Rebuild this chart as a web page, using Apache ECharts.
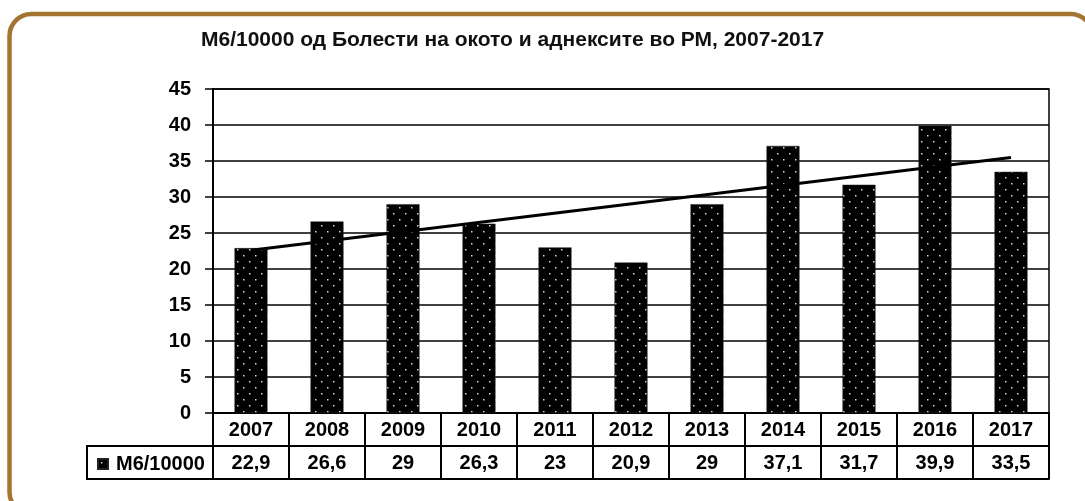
<!DOCTYPE html>
<html>
<head>
	<meta charset="utf-8">
	<title></title>
	<script src="https://cdn.jsdelivr.net/npm/echarts@6/dist/echarts.min.js"></script>
	<style>
		body { margin: 0; background: #fff; }
		#main { width: 1085px; height: 501px; }
	</style>
</head>
<body>
	<div id="main"></div>
	<script>
		// податоци од графиконот
		var years = ['2007', '2008', '2009', '2010', '2011', '2012', '2013', '2014', '2015', '2016', '2017']
		var values = [22.9, 26.6, 29, 26.3, 23, 20.9, 29, 37.1, 31.7, 39.9, 33.5]
		var trendEnds = [22.6, 35.5]   // линиски тренд, прочитан од сликата
		var yTicks = { min: 0, max: 45, step: 5 }
		var seriesName = 'М6/10000'

		var boldFont = 'Liberation Sans'
		var ink = '#000'

		// црно поле со бели точки
		function dotPattern() {
			var c = document.createElement('canvas')
			c.width = 12
			c.height = 12
			var ctx = c.getContext('2d')
			ctx.fillStyle = '#000'
			ctx.fillRect(0, 0, 12, 12)
			ctx.fillStyle = '#d8d8d8'
			ctx.fillRect(3, 3, 1.5, 1.5)
			ctx.fillRect(9, 9, 1.5, 1.5)
			return c
		}

		function comma(v) {
			return String(v).replace('.', ',')
		}

		var chart = echarts.init(document.getElementById('main'))

		var opt = {
			animation: false,
			title: {
				text: 'М6/10000 од Болести на окото и аднексите во РМ, 2007-2017',
				left: 196,
				top: 25,
				textStyle: { fontFamily: boldFont, fontWeight: 'bold', fontSize: 21, color: '#111' }
			},
			legend: {
				data: [seriesName],
				left: 92,
				top: 449,
				icon: 'rect',
				itemWidth: 10,
				itemHeight: 10,
				itemGap: 2,
				textStyle: { fontFamily: boldFont, fontWeight: 'bold', fontSize: 20, color: ink, padding: [0, 0, 0, 3] }
			},
			grid: {
				left: 213, right: 36, top: 89, bottom: 88,
				show: true, borderColor: ink, borderWidth: 1.5
			},
			xAxis: [
				{
					type: 'category',
					data: years,
					position: 'bottom',
					axisLine: { lineStyle: { color: ink, width: 2 } },
					axisTick: { show: true, interval: 0, length: 66, lineStyle: { color: ink, width: 2 } },
					axisLabel: { interval: 0, margin: 7, fontFamily: boldFont, fontWeight: 'bold', fontSize: 20, color: ink }
				},
				{
					type: 'category',
					data: years,
					position: 'bottom',
					offset: 33,
					axisLine: { lineStyle: { color: ink, width: 2 } },
					axisTick: { show: false },
					axisLabel: {
						interval: 0, margin: 7, fontFamily: boldFont, fontWeight: 'bold', fontSize: 20, color: ink,
						formatter: function (v, i) { return comma(values[i]) }
					}
				},
				{
					type: 'category',
					data: years,
					position: 'bottom',
					offset: 66,
					axisLine: { lineStyle: { color: ink, width: 2 } },
					axisTick: { show: false },
					axisLabel: { show: false }
				}
			],
			yAxis: {
				type: 'value',
				min: yTicks.min,
				max: yTicks.max,
				interval: yTicks.step,
				axisLine: { show: true, lineStyle: { color: ink, width: 2 } },
				axisTick: { show: true, length: 8, lineStyle: { color: ink, width: 1.5 } },
				axisLabel: { margin: 22, fontFamily: boldFont, fontWeight: 'bold', fontSize: 20, color: ink },
				splitLine: { lineStyle: { color: ink, width: 1.5 } }
			},
			series: [
				{
					name: seriesName,
					type: 'bar',
					data: values,
					barWidth: 33,
					itemStyle: {
						color: { image: dotPattern(), repeat: 'repeat' },
						borderColor: '#222',
						borderWidth: 0.5
					}
				},
				{
					name: 'тренд',
					type: 'line',
					data: [[years[0], trendEnds[0]], [years[years.length - 1], trendEnds[1]]],
					symbol: 'none',
					z: 5,
					lineStyle: { color: ink, width: 3 }
				}
			],
			graphic: [
				{
					// кафеава рамка
					type: 'rect',
					shape: { x: 9.5, y: 14, width: 1083, height: 500, r: 22 },
					style: { fill: 'none', stroke: '#a47432', lineWidth: 4.5 },
					silent: true
				},
				{
					// ќелија за легендата во табелата
					type: 'rect',
					shape: { x: 87, y: 446, width: 126, height: 33 },
					style: { fill: 'none', stroke: ink, lineWidth: 2 },
					silent: true
				}
			]
		}

		chart.setOption(opt)
	</script>
</body>
</html>
